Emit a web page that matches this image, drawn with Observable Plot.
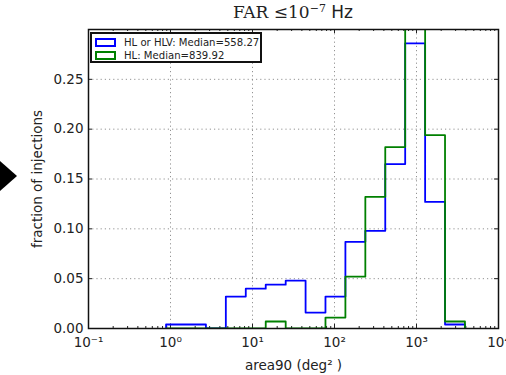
<!DOCTYPE html>
<html>
<head>
<meta charset="utf-8">
<script src="https://cdn.jsdelivr.net/npm/d3@7"></script>
<script src="https://cdn.jsdelivr.net/npm/@observablehq/plot@0.6"></script>
<style>
  html, body { margin: 0; padding: 0; background: #fff; }
  #wrap { position: relative; width: 506px; height: 375px; font-family: "DejaVu Sans", sans-serif; }
  #title { position: absolute; left: 88px; width: 410px; top: 2px; text-align: center; font-size: 17px; color: #222; white-space: nowrap; }
  #title .serif { font-family: "DejaVu Serif", serif; }
  #title sup { font-size: 11px; vertical-align: 6px; line-height: 0; }
  #legend { position: absolute; left: 90px; top: 32px; width: 168px; height: 27px; border: 2px solid #111; background: #fff; padding: 0; }
  .entry { position: absolute; left: 3px; height: 12px; display: flex; align-items: center; font-size: 10.1px; color: #222; white-space: nowrap; }
  .sw { width: 17px; height: 5px; border: 2px solid; margin-right: 8px; background: #fff; }
  #arrow { position: absolute; left: 0; top: 160px; }
</style>
</head>
<body>
<div id="wrap">
  <div id="chart"></div>
  <div id="title"></div>
  <div id="legend"></div>
  <svg id="arrow" width="20" height="34"><polygon points="0,1 17,16 0,31" fill="#000"/></svg>
</div>
<script>
// Histogram bin edges (deg^2), log-spaced
const binEdges = [0.883, 1.545, 2.704, 4.73, 8.28, 14.5, 25.4, 44.4, 77.6, 135.8, 237.7, 415.9, 727.8, 1274, 2228, 3899];
// Fraction of injections per bin
const fracHLorHLV = [0.004, 0.004, 0, 0.032, 0.040, 0.044, 0.048, 0.016, 0.032, 0.087, 0.098, 0.165, 0.286, 0.127, 0.004];
const fracHL      = [0, 0, 0, 0, 0, 0.007, 0, 0, 0.011, 0.052, 0.132, 0.182, 0.415, 0.194, 0.007];
const seriesNames = ["HL or HLV: Median=558.27", "HL: Median=839.92"];
const seriesColors = ["#0000ff", "#008000"];
const xMajor = [0.1, 1, 10, 100, 1000, 10000];
const yMajor = [0, 0.05, 0.10, 0.15, 0.20, 0.25];
const titleText = ["FAR ", "≤10", "−7", "  Hz"];

function stepPoints(vals) {
  const pts = [{x: binEdges[0], y: 0}];
  vals.forEach((v, i) => pts.push({x: binEdges[i], y: v}));
  pts.push({x: binEdges[binEdges.length - 1], y: 0});
  return pts;
}
const xMinor = [];
for (let d = -1; d <= 3; d++) for (let k = 2; k <= 9; k++) xMinor.push(k * Math.pow(10, d));

const supMap = {"-": "⁻", "0": "⁰", "1": "¹", "2": "²", "3": "³", "4": "⁴"};
const fmtPow = v => "10" + String(Math.round(Math.log10(v))).split("").map(c => supMap[c]).join("");

const W = 506, H = 375, mL = 88, mR = 8, mT = 29, mB = 47;
const fw = W - mL - mR, fh = H - mT - mB;

const plot = Plot.plot({
  width: W, height: H,
  marginLeft: mL, marginRight: mR, marginTop: mT, marginBottom: mB,
  style: {fontFamily: "DejaVu Sans, sans-serif", color: "#222", background: "#fff", overflow: "visible"},
  x: {type: "log", domain: [0.1, 10000]},
  y: {domain: [0, 0.3]},
  marks: [
    Plot.gridX([1, 10, 100, 1000], {stroke: "#777", strokeOpacity: 1, strokeWidth: 0.8, strokeDasharray: "1.2,3"}),
    Plot.gridY([0.05, 0.10, 0.15, 0.20, 0.25], {stroke: "#777", strokeOpacity: 1, strokeWidth: 0.8, strokeDasharray: "1.2,3"}),
    // ticks (inward, on all four sides)
    Plot.ruleX(xMajor, {x: d => d, insetTop: fh - 4, stroke: "#222"}),
    Plot.ruleX(xMajor, {x: d => d, insetBottom: fh - 4, stroke: "#222"}),
    Plot.ruleX(xMinor, {x: d => d, insetTop: fh - 2, stroke: "#222"}),
    Plot.ruleX(xMinor, {x: d => d, insetBottom: fh - 2, stroke: "#222"}),
    Plot.ruleY(yMajor, {y: d => d, insetRight: fw - 4, stroke: "#222"}),
    Plot.ruleY(yMajor, {y: d => d, insetLeft: fw - 4, stroke: "#222"}),
    Plot.line(stepPoints(fracHLorHLV), {x: "x", y: "y", curve: "step-after", stroke: seriesColors[0], strokeWidth: 1.8, clip: true}),
    Plot.line(stepPoints(fracHL), {x: "x", y: "y", curve: "step-after", stroke: seriesColors[1], strokeWidth: 1.8, clip: true}),
    Plot.frame({stroke: "#111", strokeWidth: 1.5}),
    Plot.axisX({ticks: xMajor, tickFormat: fmtPow, tickSize: 0, tickPadding: 9, fontSize: 13.5,
      label: "area90 (deg² )", labelAnchor: "center", labelArrow: "none", labelOffset: 41}),
    Plot.axisY({ticks: yMajor, tickFormat: d3.format(".2f"), tickSize: 0, tickPadding: 5, fontSize: 13.5,
      label: "fraction of injections", labelAnchor: "center", labelArrow: "none", labelOffset: 56})
  ]
});
document.getElementById("chart").appendChild(plot);

// title
const t = document.getElementById("title");
t.innerHTML = `<span class="serif">${titleText[0]}${titleText[1]}<sup>${titleText[2]}</sup></span><span>${titleText[3]}</span>`;

// legend
const lg = document.getElementById("legend");
seriesNames.forEach((name, i) => {
  const e = document.createElement("div");
  e.className = "entry";
  e.style.top = (2 + i * 13) + "px";
  e.innerHTML = `<div class="sw" style="border-color:${seriesColors[i]}"></div><span>${name}</span>`;
  lg.appendChild(e);
});
</script>
</body>
</html>
